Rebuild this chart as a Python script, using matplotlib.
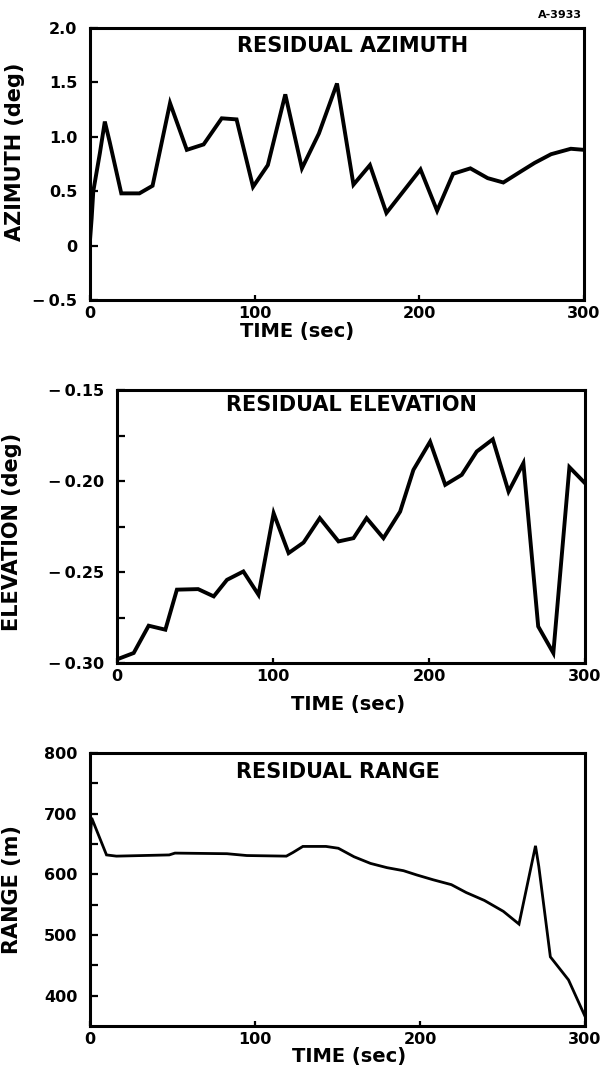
import matplotlib
matplotlib.use("Agg")
import matplotlib.pyplot as plt
from matplotlib.ticker import FixedLocator, FuncFormatter

plt.rcParams['font.family'] = ['DejaVu Sans']
plt.rcParams['font.weight'] = 'bold'

# Residual azimuth (deg) vs time (sec)
az_t = [0, 1, 2, 6, 9, 12, 19, 30, 38, 48.6, 58.8, 69, 80, 89, 99, 108, 118.6, 128.7,
        139, 150, 160, 170, 180, 200.7, 210.8, 220.5, 231, 241.5, 251, 261.5, 270, 280, 292, 300]
az_v = [0.05, 0.25, 0.5, 0.85, 1.14, 0.95, 0.48, 0.48, 0.55, 1.31, 0.88, 0.93, 1.17, 1.16, 0.54, 0.74, 1.39, 0.71,
        1.03, 1.49, 0.56, 0.74, 0.30, 0.70, 0.32, 0.66, 0.71, 0.62, 0.58, 0.68, 0.76, 0.84, 0.89, 0.88]

# Residual elevation (deg) vs time (sec)
el_t = [0, 10.7, 20.3, 31, 38.4, 52, 62, 70.5, 81, 90.7, 100.4, 110, 119.6, 130, 142, 151.6,
        160, 170.8, 181.5, 190, 200.7, 210.4, 221, 230.6, 240.9, 251, 260.5, 270, 279.7, 290, 300]
el_v = [-0.298, -0.2945, -0.2795, -0.2817, -0.2597, -0.2594, -0.2634, -0.2543, -0.2497, -0.2625,
        -0.2177, -0.2396, -0.2338, -0.2204, -0.2332, -0.2314, -0.2204, -0.2314, -0.2168, -0.1939,
        -0.1784, -0.2021, -0.1966, -0.1838, -0.1771, -0.2058, -0.1902, -0.2799, -0.2945, -0.1924, -0.2012]

# Residual range (m) vs time (sec)
rg_t = [0, 1, 10, 16, 48, 51.5, 83, 95, 119, 123, 129, 143, 150.5, 160, 170, 180, 190, 198,
        208, 219, 228, 239, 250.5, 260, 270, 272, 279, 290, 300]
rg_v = [650, 693, 632, 630, 632, 635, 634, 631, 630, 636, 646, 646, 643, 629, 618, 611, 606, 599,
        591, 583, 570, 557, 539, 518, 647, 613, 464, 426, 366]

x_ticks = [0, 100, 200, 300]
az_ticks = [-0.5, 0, 0.5, 1.0, 1.5, 2.0]
el_ticks = [-0.30, -0.25, -0.20, -0.15]
el_minor = [-0.275, -0.225, -0.175]
rg_ticks = [400, 500, 600, 700, 800]
rg_minor = [450, 550, 650, 750]

W, H = 606, 1078
fig = plt.figure(figsize=(W / 100, H / 100), dpi=100)


def axes_px(left, top, right, bottom):
    return fig.add_axes([left / W, 1 - bottom / H, (right - left) / W, (bottom - top) / H])


def minus(s):
    return s.replace('-', '\u2212\u2009')


def style(ax):
    for sp in ax.spines.values():
        sp.set_linewidth(2.2)
    ax.tick_params(axis='y', which='both', direction='in', length=6, width=1.6,
                   labelsize=11.5, pad=9)
    ax.tick_params(axis='x', which='both', direction='in', length=3.5, width=1.6,
                   labelsize=11.5, pad=4)
    ax.set_xlim(0, 300)
    ax.xaxis.set_major_locator(FixedLocator(x_ticks))
    ax.xaxis.set_major_formatter(FuncFormatter(lambda v, p: f"{v:.0f}"))
    for lab in ax.get_xticklabels() + ax.get_yticklabels():
        lab.set_fontweight('bold')


def finish(ax, ylabel, ylab_pos, xlab_pos, title, title_pos):
    ax.set_xlabel('TIME (sec)', fontsize=14, fontweight='bold')
    ax.xaxis.set_label_coords(*xlab_pos)
    ax.set_ylabel(ylabel, fontsize=15, fontweight='bold')
    ax.yaxis.set_label_coords(*ylab_pos)
    ax.text(title_pos[0], title_pos[1], title, transform=ax.transAxes, ha='center',
            va='center', fontsize=15, fontweight='bold')


# Azimuth panel
ax1 = axes_px(90, 28, 584, 300)
ax1.plot(az_t, az_v, color='black', lw=2.8, solid_joinstyle='miter')
ax1.set_ylim(-0.5, 2.0)
ax1.yaxis.set_major_locator(FixedLocator(az_ticks))
ax1.yaxis.set_major_formatter(FuncFormatter(
    lambda v, p: '0' if v == 0 else minus(f"{v:.1f}")))
style(ax1)
finish(ax1, 'AZIMUTH (deg)', (-0.132, 0.546), (0.419, -0.08),
       'RESIDUAL AZIMUTH', (0.531, 0.935))

# Elevation panel
ax2 = axes_px(117, 390, 585, 663)
ax2.plot(el_t, el_v, color='black', lw=2.8, solid_joinstyle='miter')
ax2.set_ylim(-0.30, -0.15)
ax2.yaxis.set_major_locator(FixedLocator(el_ticks))
ax2.yaxis.set_minor_locator(FixedLocator(el_minor))
ax2.yaxis.set_major_formatter(FuncFormatter(lambda v, p: minus(f"{v:.2f}")))
style(ax2)
finish(ax2, 'ELEVATION (deg)', (-0.203, 0.48), (0.494, -0.117),
       'RESIDUAL ELEVATION', (0.5, 0.945))

# Range panel
ax3 = axes_px(90, 753, 585, 1026)
ax3.plot(rg_t, rg_v, color='black', lw=2.0, solid_joinstyle='miter')
ax3.set_ylim(350, 800)
ax3.yaxis.set_major_locator(FixedLocator(rg_ticks))
ax3.yaxis.set_minor_locator(FixedLocator(rg_minor))
ax3.yaxis.set_major_formatter(FuncFormatter(lambda v, p: f"{v:.0f}"))
style(ax3)
finish(ax3, 'RANGE (m)', (-0.137, 0.5), (0.523, -0.077),
       'RESIDUAL RANGE', (0.5, 0.93))

fig.text(582 / W, 1 - 15 / H, 'A-3933', ha='right', va='center', fontsize=8, fontweight='bold')

fig.savefig('out.png', dpi=100)
